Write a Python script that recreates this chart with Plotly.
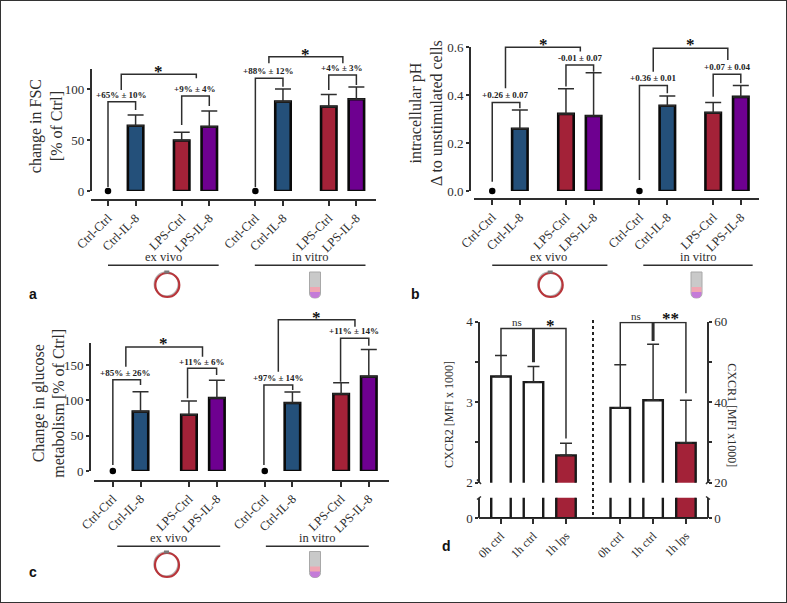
import plotly.graph_objects as go

W, H = 787, 603
SERIF = "Liberation Serif"
INK = "#2e2e2e"

# group labels
categories = ["Ctrl-Ctrl", "Ctrl-IL-8", "LPS-Ctrl", "LPS-IL-8"] * 2
colours = ["#000000", "#24507a", "#a32238", "#6e0090"] * 2

# panel a, change in FSC
a_x = [0, 1, 2.67, 3.67, 5.34, 6.34, 8, 9]
a_values = [0, 64, 49.5, 63, 0, 87.6, 82.7, 90]
a_errors = [0, 10.5, 8, 15.4, 0, 12.4, 11.8, 12]
a_ticks = [0, 50, 100]

# panel b, intracellular pH
b_x = [0, 1, 2.67, 3.67, 5.33, 6.34, 8, 9]
b_values = [0, 0.26, 0.322, 0.313, 0, 0.356, 0.327, 0.393]
b_errors = [0, 0.078, 0.105, 0.181, 0, 0.041, 0.043, 0.047]
b_ticks = [0.0, 0.2, 0.4, 0.6]

# panel c, glucose metabolism
c_x = [0, 1, 2.75, 3.76, 5.49, 6.49, 8.25, 9.25]
c_values = [0, 84, 79.7, 103.3, 0, 96.2, 109, 133.5]
c_errors = [0, 28, 19.3, 25, 0, 15.6, 16, 38.5]
c_ticks = [0, 50, 100, 150]

# panel d, receptor expression
d_labels = ["0h ctrl", "1h ctrl", "1h lps"]
d_x_left = [0, 1, 2]
d_x_right = [3.67, 4.68, 5.69]
cxcr2_values = [3.32, 3.25, 2.34]
cxcr2_errors = [0.26, 0.195, 0.15]
cxcr1_values = [38.6, 40.5, 29.9]
cxcr1_errors = [10.7, 13.9, 10.6]
d_colours = ["#ffffff", "#ffffff", "#a32238"]


def xd(px):
    return px / W


def yd(px):
    return 1 - px / H


fig = go.Figure()
shapes = []
notes = []


def note(text, x, y, xref="paper", yref="paper", size=13, color=INK, bold=False, angle=0, family=SERIF, yshift=0):
    if bold:
        text = "<b>" + text + "</b>"
    notes.append(dict(text=text, x=x, y=y, xref=xref, yref=yref, showarrow=False, textangle=angle,
                      font=dict(family=family, size=size, color=color), xanchor="center", yanchor="middle",
                      yshift=yshift))


def line_px(x0, y0, x1, y1, color=INK, width=1.5, dash="solid"):
    shapes.append(dict(type="line", xref="paper", yref="paper", x0=xd(x0), y0=yd(y0), x1=xd(x1), y1=yd(y1),
                       line=dict(color=color, width=width, dash=dash)))


def plasmid(cx, cy):
    r = 12
    shapes.append(dict(type="circle", xref="paper", yref="paper", x0=xd(cx - r - 1), x1=xd(cx + r - 1), y0=yd(cy + r - 1),
                       y1=yd(cy - r - 1), line=dict(color="#b5b5b5", width=1.5)))
    shapes.append(dict(type="circle", xref="paper", yref="paper", x0=xd(cx - r), x1=xd(cx + r), y0=yd(cy + r),
                       y1=yd(cy - r), line=dict(color="#b8353a", width=2.2)))
    line_px(cx - 3, cy - 13, cx + 2, cy - 13, color="#777777", width=3)


def tube_path(x0, x1, y0, y1, round_bottom):
    # builds an svg path in paper coordinates
    top = "M %f %f L %f %f " % (xd(x0), yd(y0), xd(x1), yd(y0))
    if round_bottom:
        mid = (x0 + x1) / 2
        return top + "L %f %f Q %f %f %f %f Q %f %f %f %f Z" % (
            xd(x1), yd(y1 - 5), xd(x1), yd(y1), xd(mid), yd(y1), xd(x0), yd(y1), xd(x0), yd(y1 - 5))
    return top + "L %f %f L %f %f Z" % (xd(x1), yd(y1), xd(x0), yd(y1))


def tube(x0, y0):
    x1, y3 = x0 + 11, y0 + 26
    shapes.append(dict(type="path", xref="paper", yref="paper", path=tube_path(x0, x1, y0, y3, True),
                       fillcolor="#c9c9c9", line=dict(color="#a8a8a8", width=1)))
    shapes.append(dict(type="path", xref="paper", yref="paper", path=tube_path(x0 + 0.5, x1 - 0.5, y0 + 15, y0 + 21, False),
                       fillcolor="#f0a6b2", line=dict(width=0)))
    shapes.append(dict(type="path", xref="paper", yref="paper", path=tube_path(x0 + 0.5, x1 - 0.5, y0 + 20, y3, True),
                       fillcolor="#c47bd8", line=dict(width=0)))


def draw_bracket(x, y, pts, width=1.5):
    fig.add_trace(go.Scatter(x=pts[0], y=pts[1], xaxis=x, yaxis=y, mode="lines",
                             line=dict(color=INK, width=width), hoverinfo="skip"))


def panel(n, xs, values, errors, ticks, tickfmt, box, zero_px, top_val, line_y, xrange, axis_x, brackets, labels, stars,
          groups, group_y, top_px):
    suffix = "" if n == 1 else str(n)
    xa, ya = "x" + suffix, "y" + suffix
    # brackets sit above the axis top, so they go on a hidden axis of the same scale reaching higher
    over = "y" + str(10 + n)
    per_px = top_val / (zero_px - box[2])
    bx = [p for p, v in zip(xs, values) if v > 0]
    by = [v for v in values if v > 0]
    be = [e for v, e in zip(values, errors) if v > 0]
    bc = [c for v, c in zip(values, colours) if v > 0]
    fig.add_trace(go.Bar(x=bx, y=by, width=0.56, xaxis=xa, yaxis=ya, cliponaxis=False,
                         marker=dict(color=bc, line=dict(color="#0a0a0a", width=2.6)),
                         error_y=dict(type="data", symmetric=False, array=be, arrayminus=[0] * len(be),
                                      color=INK, thickness=1.5, width=8)))
    dx = [p for p, v in zip(xs, values) if v == 0]
    fig.add_trace(go.Scatter(x=dx, y=[0] * len(dx), xaxis=xa, yaxis=ya, mode="markers", cliponaxis=False,
                             marker=dict(color="#000000", size=6.5)))
    for b in brackets:
        draw_bracket(xa, over, ([b[0], b[0], b[3], b[3]], [b[1], b[2], b[2], b[4]]))
    for t, px, py in labels:
        note(t, px, py, xa, over, size=9, color="#222222", bold=True)
    for px, py in stars:
        note("*", px, py, xa, over, size=17, color="#111111", bold=True, yshift=-3)
    for t, cx, g0, g1 in groups:
        note(t, cx, yd(group_y), xa, "paper", size=12.5)
        shapes.append(dict(type="line", xref=xa, yref="paper", x0=g0, x1=g1, y0=yd(group_y + 8.5), y1=yd(group_y + 8.5),
                           line=dict(color=INK, width=1.5)))
    fig.update_layout({
        "xaxis" + suffix: dict(domain=[xd(box[0]), xd(box[1])], range=xrange, anchor="free", position=yd(line_y),
                               tickvals=xs, ticktext=categories, tickangle=-45, showgrid=False, zeroline=False,
                               showline=True, linecolor=INK, linewidth=1.7, ticks="outside", ticklen=5, tickwidth=1.5,
                               tickcolor=INK, tickfont=dict(family=SERIF, size=12.5, color=INK)),
        "yaxis" + suffix: dict(domain=[yd(zero_px), yd(box[2])], range=[0, top_val], anchor="free", position=xd(axis_x),
                               tickvals=ticks, tickformat=tickfmt, showgrid=False, zeroline=False, showline=True,
                               linecolor=INK, linewidth=1.7, ticks="outside", ticklen=3, tickwidth=1.5, tickcolor=INK,
                               tickfont=dict(family=SERIF, size=13, color=INK)),
        "yaxis" + str(10 + n): dict(domain=[yd(zero_px), yd(top_px)], range=[0, (zero_px - top_px) * per_px],
                                    anchor="free", position=xd(axis_x), visible=False),
    })


# bracket rows: left x, left y, top y, right x, right y
panel(1, a_x, a_values, a_errors, a_ticks, "d", (90.7, 375.7, 69), 191, 119.6, 200, [-0.627, 9.7], 90.7,
      [(0, 4, 87.6, 1, 79.4), (0.48, 99, 114.4, 3.2, 110.5), (2.67, 64.7, 93.1, 3.67, 83.3),
       (5.34, 4, 110.5, 6.34, 102.3), (5.83, 125.2, 131.7, 8.51, 125.2), (8, 99, 113.7, 9, 103.9)],
      [("+65% ± 10%", 0.48, 94.4), ("+9% ± 4%", 3.16, 100), ("+88% ± 12%", 5.82, 117.3), ("+4% ± 3%", 8.49, 120.6)],
      [(1.84, 120), (7.16, 137)],
      [("ex vivo", 2, 0, 4.01), ("in vitro", 7.33, 5.32, 9.33)], 256.7, 20)
panel(2, b_x, b_values, b_errors, b_ticks, ".1f", (474, 759.3, 47.3), 191, 0.6, 199.3, [-0.66, 9.67], 470,
      [(0, 0.039, 0.369, 1, 0.345), (0.48, 0.429, 0.6, 3.19, 0.582), (2.67, 0.436, 0.526, 3.67, 0.498),
       (5.33, 0.046, 0.44, 6.34, 0.408), (5.83, 0.498, 0.596, 8.53, 0.547), (8, 0.394, 0.487, 9, 0.45)],
      [("+0.26 ± 0.07", 0.48, 0.401), ("-0.01 ± 0.07", 3.17, 0.554), ("+0.36 ± 0.01", 5.83, 0.47),
       ("+0.07 ± 0.04", 8.51, 0.516)],
      [(1.84, 0.626), (7.17, 0.624)],
      [("ex vivo", 2.05, 0, 4.17), ("in vitro", 7.45, 5.47, 9.43)], 256.7, 20)
panel(3, c_x, c_values, c_errors, c_ticks, "d", (94.3, 389, 343.3), 471, 180.7, 480.7, [-0.67, 9.98], 90,
      [(0, 8.5, 129.2, 1, 121.7), (0.47, 147.6, 175.5, 3.24, 161.8), (2.7, 102.8, 145.3, 3.75, 135.8),
       (5.46, 8.5, 121.7, 6.5, 114.6), (5.98, 140.6, 214, 8.75, 204), (8.23, 126.4, 187.7, 9.25, 177.4)],
      [("+85% ± 26%", 0.47, 139), ("+11% ± 6%", 3.22, 154.7), ("+97% ± 14%", 5.98, 131.6), ("+11% ± 14%", 8.73, 198)],
      [(1.84, 184), (7.36, 222)],
      [("ex vivo", 2.01, 0.16, 3.88), ("in vitro", 7.39, 5.53, 9.25)], 537.7, 300)

# panel d is a broken axis, the bars start at 0 and get clipped by each segment
D_X = dict(domain=[xd(479.3), xd(707.7)], range=[-0.667, 6.36], anchor="free", position=yd(518.3),
           tickvals=d_x_left + d_x_right, ticktext=d_labels * 2, tickangle=-45, showgrid=False, zeroline=False,
           showline=True, linecolor=INK, linewidth=1.7, ticks="outside", ticklen=5, tickwidth=1.5, tickcolor=INK,
           tickfont=dict(family=SERIF, size=12, color=INK))
Y_COMMON = dict(showgrid=False, zeroline=False, showline=True, linecolor=INK, linewidth=1.7, ticks="outside", ticklen=3,
                tickwidth=1.5, tickcolor=INK, tickfont=dict(family=SERIF, size=13, color=INK))
fig.update_layout(
    xaxis4=D_X,
    yaxis4=dict(domain=[yd(482.7), yd(321.7)], range=[2, 4], anchor="free", position=xd(479.3),
                tickvals=[2, 2.5, 3, 3.5, 4], ticktext=["2", "", "3", "", "4"], **Y_COMMON),
    yaxis5=dict(domain=[yd(482.7), yd(321.7)], range=[20, 60], anchor="free", position=xd(707.7), side="right",
                overlaying="y4", tickvals=[20, 30, 40, 50, 60], ticktext=["20", "", "40", "", "60"], **Y_COMMON),
    yaxis6=dict(domain=[yd(518.3), yd(497.7)], range=[0, 0.5], anchor="free", position=xd(479.3),
                tickvals=[0], ticktext=["0"], **Y_COMMON),
    yaxis7=dict(domain=[yd(518.3), yd(497.7)], range=[0, 5], anchor="free", position=xd(707.7), side="right",
                overlaying="y6", tickvals=[0], ticktext=["0"], **Y_COMMON),
)
for bx, vals, errs, ya, yb in [(d_x_left, cxcr2_values, cxcr2_errors, "y4", "y6"),
                               (d_x_right, cxcr1_values, cxcr1_errors, "y5", "y7")]:
    fig.add_trace(go.Bar(x=bx, y=vals, width=0.6, xaxis="x4", yaxis=ya,
                         marker=dict(color=d_colours, line=dict(color="#1a1a1a", width=2.4)),
                         error_y=dict(type="data", symmetric=False, array=errs, arrayminus=[0, 0, 0],
                                      color=INK, thickness=1.5, width=6)))
    fig.add_trace(go.Bar(x=bx, y=vals, width=0.6, xaxis="x4", yaxis=yb,
                         marker=dict(color=d_colours, line=dict(color="#1a1a1a", width=2.4))))

draw_bracket("x4", "y4", ([0, 0, 2, 2], [3.58, 3.917, 3.917, 2.55]))
draw_bracket("x4", "y4", ([1, 1], [3.917, 3.495]), width=3)
draw_bracket("x4", "y5", ([3.67, 3.67, 5.69, 5.69], [49.3, 59.8, 59.8, 42.2]))
draw_bracket("x4", "y5", ([4.68, 4.68], [59.8, 55.2]), width=3)
note("ns", 0.48, yd(322), "x4", "paper", size=11)
note("*", 1.51, yd(322.5), "x4", "paper", size=17, color="#111111", bold=True, yshift=-3)
note("ns", 4.15, yd(315.7), "x4", "paper", size=11)
note("**", 5.2, yd(316), "x4", "paper", size=17, color="#111111", bold=True, yshift=-3)

# dotted divider and axis breaks
line_px(593, 320, 593, 517, color="#222222", width=2, dash="dot")
line_px(477, 479.5, 481, 484, width=1.5)
line_px(477, 499.5, 481, 496.5, width=1.5)
line_px(710, 479.5, 706, 484, width=1.5)
line_px(710, 499.5, 706, 496.5, width=1.5)

# axis titles
note("change in FSC<br>[% of Ctrl]", 45.5 / W, yd(126.7), size=16, angle=-90)
note("intracellular pH<br>Δ to unstimulated cells", 426 / W, yd(113), size=16, angle=-90)
note("Change in glucose<br>metabolism [% of Ctrl]", 48.7 / W, yd(403), size=16, angle=-90)
note("CXCR2 [MFI x 1000]", 449 / W, yd(415), size=12, angle=-90)
note("CXCR1 [MFI x1000]", 731.7 / W, yd(415), size=12, angle=90)

# panel letters
for letter, px, py in [("a", 33, 294), ("b", 415, 294), ("c", 33, 572), ("d", 446, 546)]:
    note(letter, px / W, yd(py), size=14, color="#111111", bold=True, family="Liberation Sans")

plasmid(167.3, 285)
plasmid(550.7, 285)
plasmid(167, 565)
tube(309.5, 272)
tube(691, 272)
tube(309.5, 551.5)

# outer frame of the image
shapes.append(dict(type="rect", xref="paper", yref="paper", x0=0, x1=1, y0=0, y1=1, line=dict(color="#333333", width=2)))

fig.update_layout(template="none", width=W, height=H, margin=dict(l=0, r=0, t=0, b=0), autosize=False, showlegend=False,
                  barmode="overlay", plot_bgcolor="rgba(0,0,0,0)", paper_bgcolor="white", shapes=shapes, annotations=notes)
fig.write_html("out.html", config={"displayModeBar": False}, post_script="document.body.style.margin='0';")
